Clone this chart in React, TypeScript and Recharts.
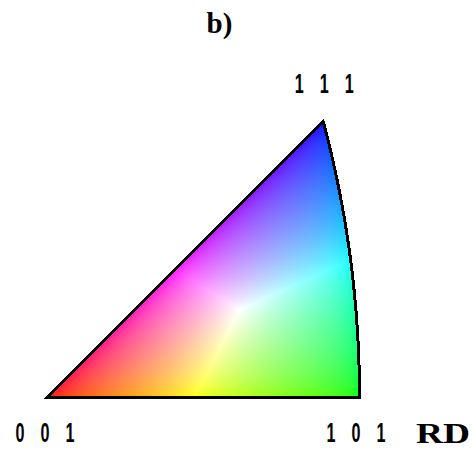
import React, { useMemo } from "react";
import { ScatterChart, Scatter, XAxis, YAxis, ReferenceArea, Customized } from "recharts";

// Poles of the cubic standard triangle (Miller indices)
const poleNames = ["0 0 1", "1 0 1", "1 1 1"];
const poleH = [0, 1, 1];
const poleK = [0, 0, 1];
const poleL = [1, 1, 1];
const titleText = "b)";
const directionText = "RD";

const project = (h: number, k: number, l: number) => {
  const n = Math.sqrt(h * h + k * k + l * l);
  return { x: h / n / (1 + l / n), y: k / n / (1 + l / n) };
};

const poles = poleNames.map((name, i) => ({ name, ...project(poleH[i], poleK[i], poleL[i]) }));
const X101 = poles[1].x;
const Y111 = poles[2].y;

const W = 473;
const H = 452;
const SCALE = 312.5 / X101;
const xDomain: [number, number] = [-47 / SCALE, (W - 47) / SCALE];
const yDomain: [number, number] = [-(H - 397.5) / SCALE, 397.5 / SCALE];

const clamp = (v: number) => Math.max(-1, Math.min(1, v));

function ipfColor(X: number, Y: number): [number, number, number] | null {
  if (Y < 0 || Y > X || (X + 1) * (X + 1) + Y * Y > 2) return null;
  const r2 = X * X + Y * Y;
  const vx = (2 * X) / (1 + r2);
  const vy = (2 * Y) / (1 + r2);
  const vz = (1 - r2) / (1 + r2);
  const ar = Math.asin(clamp((vz - vx) / Math.SQRT2)) / (Math.PI / 4);
  const ag = Math.asin(clamp((vx - vy) / Math.SQRT2)) / (Math.PI / 6);
  const ab = Math.asin(clamp(vy)) / Math.asin(1 / Math.sqrt(3));
  const m = Math.max(ar, ag, ab, 1e-9);
  const f = (v: number) => Math.sqrt(Math.max(0, v / m));
  return [f(ar), f(ag), f(ab)];
}

function IpfFill(props: any) {
  const { x, y, width, height } = props;
  const cw = Math.max(1, Math.round(width));
  const ch = Math.max(1, Math.round(height));
  const url = useMemo(() => {
    const c = document.createElement("canvas");
    c.width = cw;
    c.height = ch;
    const ctx = c.getContext("2d");
    if (!ctx) return "";
    const img = ctx.createImageData(cw, ch);
    for (let j = 0; j < ch; j++) {
      for (let i = 0; i < cw; i++) {
        const X = ((i + 0.5) / cw) * X101;
        const Y = (1 - (j + 0.5) / ch) * Y111;
        const col = ipfColor(X, Y);
        const o = (j * cw + i) * 4;
        if (col) {
          img.data[o] = Math.round(col[0] * 255);
          img.data[o + 1] = Math.round(col[1] * 255);
          img.data[o + 2] = Math.round(col[2] * 255);
          img.data[o + 3] = 255;
        }
      }
    }
    ctx.putImageData(img, 0, 0);
    return c.toDataURL();
  }, [cw, ch]);

  const px = (X: number) => x + (X / X101) * width;
  const py = (Y: number) => y + (1 - Y / Y111) * height;
  const pts: string[] = [`M${px(0)},${py(0)}`, `L${px(X101)},${py(0)}`];
  const tEnd = Math.atan2(Y111, Y111 + 1);
  const N = 60;
  for (let s = 1; s <= N; s++) {
    const t = (tEnd * s) / N;
    const X = -1 + Math.SQRT2 * Math.cos(t);
    const Y = Math.SQRT2 * Math.sin(t);
    pts.push(`L${px(X)},${py(Y)}`);
  }
  pts.push("Z");
  return (
    <g>
      <image href={url} x={x} y={y} width={cw} height={ch} preserveAspectRatio="none" style={{ imageRendering: "pixelated" }} />
      <path d={pts.join(" ")} fill="none" stroke="#000" strokeWidth={3} strokeLinejoin="miter" shapeRendering="crispEdges" />
    </g>
  );
}

function PoleLabel(props: any) {
  const { cx, cy, payload, index } = props;
  if (cx == null || cy == null) return <g />;
  const top = payload && payload.y > 0.1;
  const digits = String(payload?.name ?? "").split(" ");
  const base = top ? cy - 28.5 : cy + 44.5;
  const center = top ? cx + 1 : cx - (index === 1 ? 3.5 : 2);
  const step = 25;
  return (
    <g>
      {digits.map((d: string, i: number) => (
        <text
          key={i}
          x={center + (i - 1) * step}
          y={base}
          textAnchor="middle"
          fontFamily="'Liberation Sans', Arial, sans-serif"
          fontWeight="bold"
          fontSize={27}
          textLength={9}
          lengthAdjust="spacingAndGlyphs"
          fill="#000"
        >
          {d}
        </text>
      ))}
    </g>
  );
}

function Texts() {
  return (
    <g>
      <text x={219.5} y={33} textAnchor="middle" fontFamily="'Liberation Serif', 'Times New Roman', serif" fontWeight="bold" fontSize={29} fill="#000">
        {titleText}
      </text>
      <text x={416} y={443} fontFamily="'Liberation Serif', 'Times New Roman', serif" fontWeight="bold" fontSize={30} textLength={54} lengthAdjust="spacingAndGlyphs" fill="#000">
        {directionText}
      </text>
    </g>
  );
}

export default function App() {
  return (
    <div style={{ width: W, height: H, background: "#fff" }}>
      <style>{"body{margin:0;background:#fff}"}</style>
      <ScatterChart width={W} height={H} margin={{ top: 0, right: 0, bottom: 0, left: 0 }}>
        <XAxis type="number" dataKey="x" domain={xDomain} hide allowDataOverflow />
        <YAxis type="number" dataKey="y" domain={yDomain} hide allowDataOverflow />
        <ReferenceArea x1={0} x2={X101} y1={0} y2={Y111} ifOverflow="visible" shape={(p: any) => <IpfFill {...p} />} />
        <Scatter data={poles} isAnimationActive={false} shape={(p: any) => <PoleLabel {...p} />} />
        <Customized component={<Texts />} />
      </ScatterChart>
    </div>
  );
}
